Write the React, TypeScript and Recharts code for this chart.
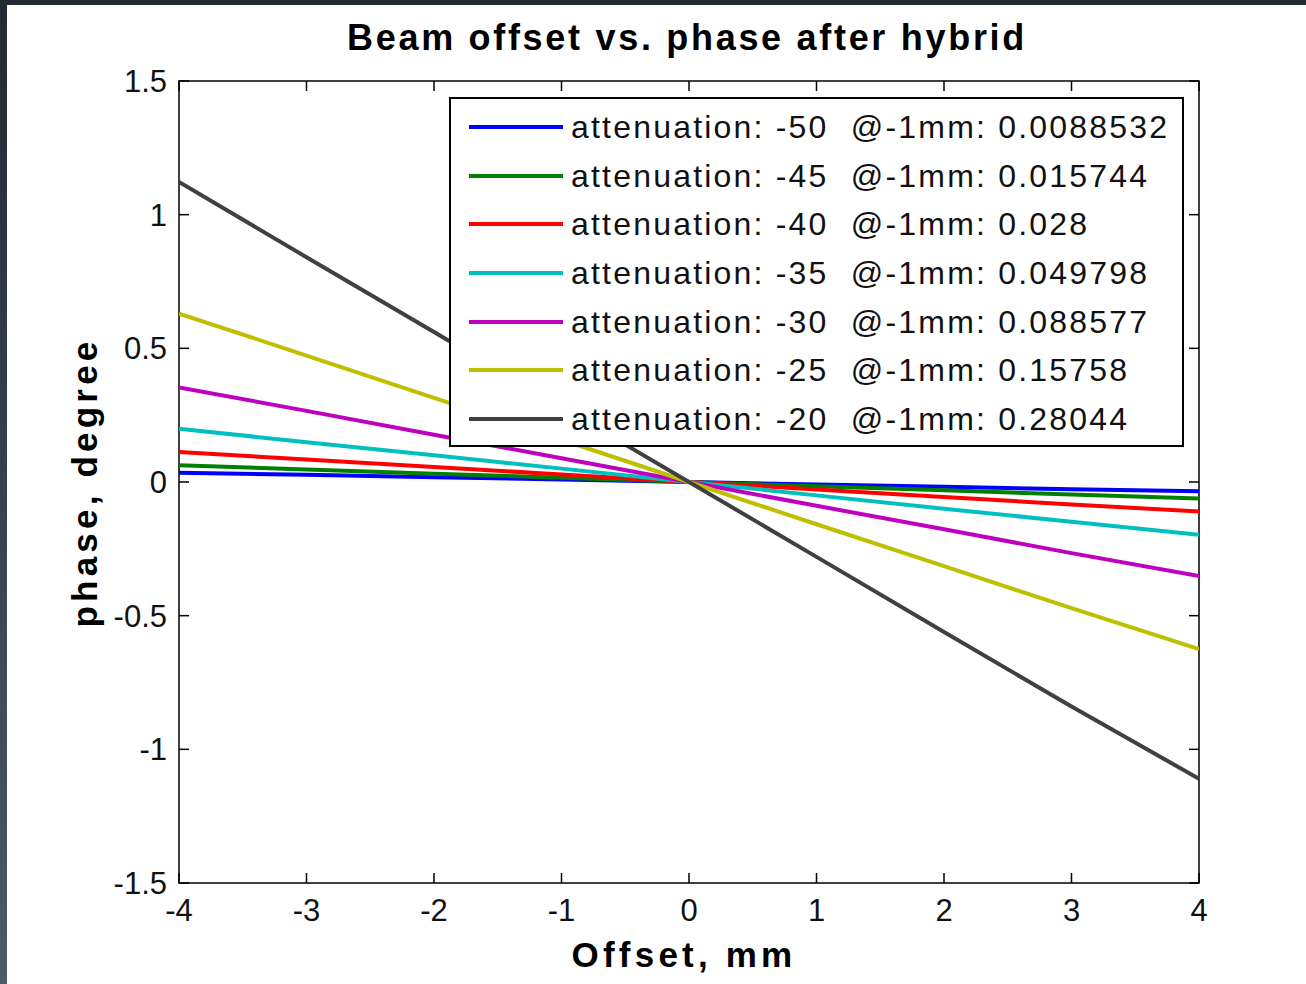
import React from 'react';
import { LineChart, Line, XAxis, YAxis, Legend, ReferenceArea } from 'recharts';

const offsets = [-4, -3, -2, -1, 0, 1, 2, 3, 4];
const att50 = [0.035, 0.027, 0.018, 0.009, 0, -0.009, -0.018, -0.027, -0.035];
const att45 = [0.063, 0.047, 0.031, 0.016, 0, -0.016, -0.031, -0.047, -0.062];
const att40 = [0.112, 0.084, 0.056, 0.028, 0, -0.028, -0.056, -0.084, -0.11];
const att35 = [0.199, 0.149, 0.1, 0.05, 0, -0.05, -0.1, -0.149, -0.197];
const att30 = [0.354, 0.266, 0.177, 0.089, 0, -0.089, -0.177, -0.266, -0.352];
const att25 = [0.63, 0.473, 0.315, 0.158, 0, -0.158, -0.315, -0.472, -0.625];
const att20 = [1.122, 0.841, 0.561, 0.28, 0, -0.28, -0.561, -0.84, -1.11];

const seriesKeys = ['a50', 'a45', 'a40', 'a35', 'a30', 'a25', 'a20'];
const seriesValues = [att50, att45, att40, att35, att30, att25, att20];
const seriesNames = [
  'attenuation: -50  @-1mm: 0.0088532',
  'attenuation: -45  @-1mm: 0.015744',
  'attenuation: -40  @-1mm: 0.028',
  'attenuation: -35  @-1mm: 0.049798',
  'attenuation: -30  @-1mm: 0.088577',
  'attenuation: -25  @-1mm: 0.15758',
  'attenuation: -20  @-1mm: 0.28044',
];
const seriesColors = ['#0000ff', '#008000', '#ff0000', '#00bfbf', '#bf00bf', '#bfbf00', '#404040'];

const xTicks = [-4, -3, -2, -1, 0, 1, 2, 3, 4];
const yTicks = [-1.5, -1, -0.5, 0, 0.5, 1, 1.5];

const data = offsets.map((x, i) => {
  const row: Record<string, number> = { x };
  seriesKeys.forEach((k, s) => {
    row[k] = seriesValues[s][i];
  });
  return row;
});

const FONT = '"Liberation Sans", Arial, Helvetica, sans-serif';

// plot frame (pixels) used for chart margins and inward tick marks
const PLOT_LEFT = 179;
const PLOT_RIGHT = 1199;
const PLOT_TOP = 81;
const PLOT_BOTTOM = 883;
const TICK_LEN = 10;

const XTick = (props: any) => {
  const { x, payload } = props;
  return (
    <g>
      <line x1={x} y1={PLOT_BOTTOM} x2={x} y2={PLOT_BOTTOM - TICK_LEN} stroke="#000" strokeWidth={1.5} />
      <line x1={x} y1={PLOT_TOP} x2={x} y2={PLOT_TOP + TICK_LEN} stroke="#000" strokeWidth={1.5} />
      <text x={x} y={921} textAnchor="middle" fontSize={31} fontFamily={FONT} fill="#111">
        {String(payload.value)}
      </text>
    </g>
  );
};

const YTick = (props: any) => {
  const { y, payload } = props;
  return (
    <g>
      <line x1={PLOT_LEFT} y1={y} x2={PLOT_LEFT + TICK_LEN} y2={y} stroke="#000" strokeWidth={1.5} />
      <line x1={PLOT_RIGHT} y1={y} x2={PLOT_RIGHT - TICK_LEN} y2={y} stroke="#000" strokeWidth={1.5} />
      <text x={167} y={y + 11} textAnchor="end" fontSize={31} fontFamily={FONT} fill="#111">
        {String(payload.value)}
      </text>
    </g>
  );
};

const LegendBox = (props: any) => {
  const payload = [...(props.payload || [])].sort(
    (a: any, b: any) => seriesNames.indexOf(a.value) - seriesNames.indexOf(b.value)
  );
  return (
    <div
      style={{
        width: 735,
        height: 350,
        boxSizing: 'border-box',
        border: '2px solid #000',
        background: '#fff',
        paddingTop: 6,
        fontFamily: FONT,
      }}
    >
      {payload.map((p: any) => (
        <div key={p.value} style={{ height: 48.7, position: 'relative' }}>
          <svg width={96} height={8} style={{ position: 'absolute', left: 17, top: 18 }}>
            <line x1={1} y1={4} x2={95} y2={4} stroke={p.color} strokeWidth={4} />
          </svg>
          <span
            style={{
              position: 'absolute',
              left: 120,
              top: 4,
              fontSize: 32,
              lineHeight: '36px',
              letterSpacing: 2.2,
              whiteSpace: 'pre',
              color: '#111',
            }}
          >
            {p.value}
          </span>
        </div>
      ))}
    </div>
  );
};

export default function App() {
  return (
    <div style={{ position: 'absolute', left: 0, top: 0, width: 1306, height: 984, background: '#232a33', overflow: 'hidden' }}>
      <div style={{ position: 'absolute', left: 0, top: 0, width: 7, height: 984, background: 'linear-gradient(#222a33, #4d5966)' }} />
      <div style={{ position: 'absolute', left: 7, top: 5, width: 1299, height: 979, background: '#fff' }} />
      <div
        style={{
          position: 'absolute',
          left: 187,
          top: 20,
          width: 1000,
          textAlign: 'center',
          fontFamily: FONT,
          fontWeight: 'bold',
          fontSize: 36,
          lineHeight: '36px',
          letterSpacing: 2.7,
          color: '#000',
        }}
      >
        Beam offset vs. phase after hybrid
      </div>
      <div
        style={{
          position: 'absolute',
          left: 384,
          top: 937,
          width: 600,
          textAlign: 'center',
          fontFamily: FONT,
          fontWeight: 'bold',
          fontSize: 35,
          lineHeight: '35px',
          letterSpacing: 4.2,
          color: '#000',
        }}
      >
        Offset, mm
      </div>
      <div
        style={{
          position: 'absolute',
          left: 84 - 250,
          top: 482 - 17,
          width: 500,
          textAlign: 'center',
          fontFamily: FONT,
          fontWeight: 'bold',
          fontSize: 35,
          lineHeight: '35px',
          letterSpacing: 4.2,
          color: '#000',
          transform: 'rotate(-90deg)',
        }}
      >
        phase, degree
      </div>
      <div style={{ position: 'absolute', left: 0, top: 0 }}>
        <LineChart
          width={1306}
          height={984}
          data={data}
          margin={{ top: PLOT_TOP, right: 1306 - PLOT_RIGHT, bottom: 984 - PLOT_BOTTOM - 50, left: PLOT_LEFT - 80 }}
        >
          <XAxis
            dataKey="x"
            type="number"
            domain={[-4, 4]}
            ticks={xTicks}
            allowDataOverflow
            height={50}
            tickLine={false}
            axisLine={false}
            tick={<XTick />}
            interval={0}
          />
          <YAxis
            type="number"
            domain={[-1.5, 1.5]}
            ticks={yTicks}
            allowDataOverflow
            width={80}
            tickLine={false}
            axisLine={false}
            tick={<YTick />}
            interval={0}
          />
          <ReferenceArea x1={-4} x2={4} y1={-1.5} y2={1.5} fill="none" stroke="#000" strokeWidth={1.5} ifOverflow="visible" />
          {seriesKeys.map((k, s) => (
            <Line
              key={k}
              type="linear"
              dataKey={k}
              name={seriesNames[s]}
              stroke={seriesColors[s]}
              strokeWidth={4}
              dot={false}
              activeDot={false}
              isAnimationActive={false}
            />
          ))}
          <Legend
            layout="vertical"
            align="center"
            verticalAlign="middle"
            content={<LegendBox />}
            wrapperStyle={{ position: 'absolute', left: 449, top: 97, width: 735, height: 350 }}
          />
        </LineChart>
      </div>
    </div>
  );
}
